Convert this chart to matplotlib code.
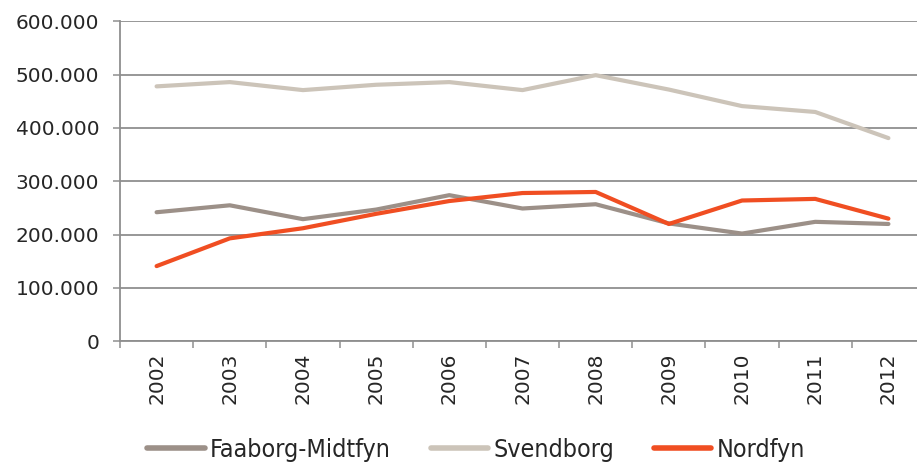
import matplotlib
matplotlib.use("Agg")
import matplotlib.pyplot as plt
from matplotlib.ticker import FuncFormatter, FixedLocator

years = ["2002", "2003", "2004", "2005", "2006", "2007", "2008", "2009", "2010", "2011", "2012"]
faaborg = [242000, 255000, 229000, 247000, 274000, 249000, 257000, 221000, 202000, 224000, 220000]
svendborg = [478000, 486000, 471000, 481000, 486000, 471000, 499000, 472000, 441000, 430000, 381000]
nordfyn = [141000, 193000, 212000, 239000, 263000, 278000, 280000, 220000, 264000, 267000, 230000]

series_names = ["Faaborg-Midtfyn", "Svendborg", "Nordfyn"]
colors = ["#9C9088", "#CCC4B9", "#F04E22"]
grid_color = "#8F8F8F"
text_color = "#262626"

fig = plt.figure(figsize=(9.17, 4.62), dpi=100)
ax = fig.add_axes([120 / 917, (462 - 341.3) / 462, 805 / 917, 320 / 462])

x = list(range(len(years)))
for vals, name, c in zip([faaborg, svendborg, nordfyn], series_names, colors):
    ax.plot(x, vals, color=c, lw=3.0, solid_capstyle="round", solid_joinstyle="round",
            label=name, zorder=3)

ax.set_xlim(-0.5, len(years) - 0.5)
ax.set_ylim(0, 600000)
ax.set_yticks(range(0, 600001, 100000))
ax.yaxis.set_major_formatter(FuncFormatter(lambda v, p: "0" if v == 0 else f"{int(v):,}".replace(",", ".")))
ax.grid(axis="y", color=grid_color, lw=1.3, zorder=1)
ax.set_axisbelow(True)

# category boundaries as major ticks, labels at centers as minor ticks
ax.xaxis.set_major_locator(FixedLocator([i - 0.5 for i in range(len(years) + 1)]))
ax.xaxis.set_major_formatter(FuncFormatter(lambda v, p: ""))
ax.xaxis.set_minor_locator(FixedLocator(x))
ax.set_xticklabels(years, minor=True, rotation=90)
ax.tick_params(axis="x", which="major", length=5, width=1.1, color=grid_color, direction="out")
ax.tick_params(axis="x", which="minor", length=0, pad=8, labelsize=14.5, labelcolor=text_color)
ax.tick_params(axis="y", length=5, width=1.1, color=grid_color, pad=10, labelsize=14.5, labelcolor=text_color)

for s in ["top", "right"]:
    ax.spines[s].set_visible(False)
for s in ["left", "bottom"]:
    ax.spines[s].set_color(grid_color)
    ax.spines[s].set_linewidth(1.3)

leg = fig.legend(loc="center", bbox_to_anchor=(476 / 917, (462 - 450) / 462), ncol=3,
                 frameon=False, prop={"size": 18, "stretch": "condensed"},
                 handlelength=2.3, handletextpad=0.2, columnspacing=1.6, borderpad=0)
for t in leg.get_texts():
    t.set_color(text_color)
for h in leg.legend_handles:
    h.set_linewidth(4.0)

fig.savefig("out.png", dpi=100)
